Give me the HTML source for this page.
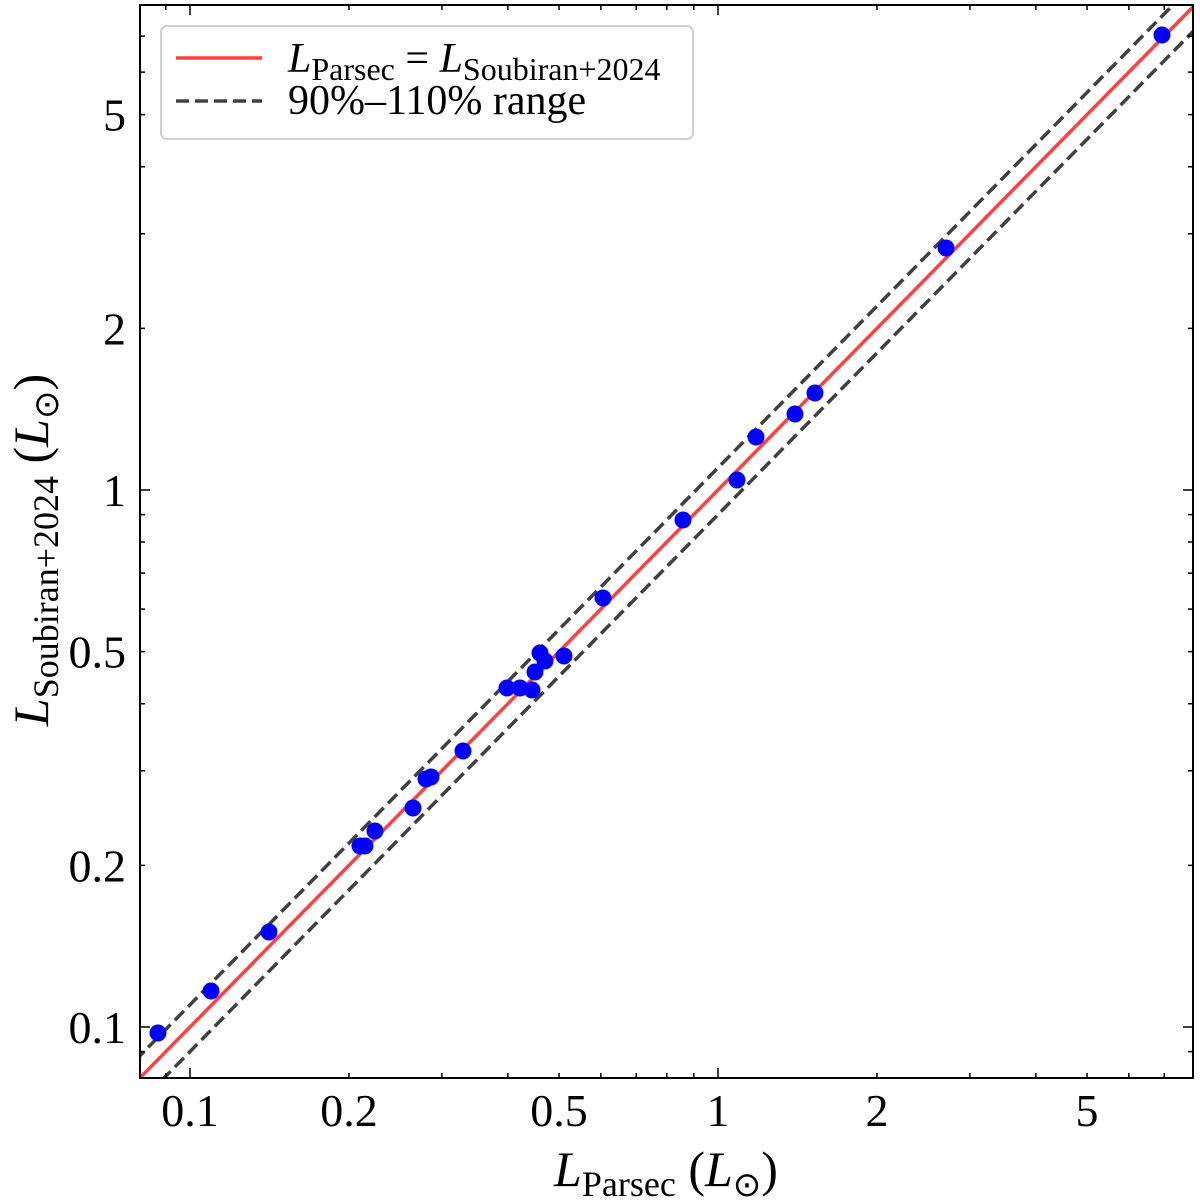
<!DOCTYPE html>
<html><head><meta charset="utf-8"><style>
body{margin:0;background:#fff}
svg{display:block;font-family:"Liberation Serif",serif}
</style></head><body>
<svg id="s" width="1200" height="1201" xmlns="http://www.w3.org/2000/svg"></svg>
<script>
const L=140,R=1193,T=5,B=1078;
const X=v=>718+528*Math.log10(v);
const Y=v=>490-537*Math.log10(v);
let h='<defs><clipPath id="c"><rect x="'+L+'" y="'+T+'" width="'+(R-L)+'" height="'+(B-T)+'"/></clipPath></defs>';
h+='<g clip-path="url(#c)">';
const x0=0.07,x1=9;
function ln(f,st,dash){h+=`<line x1="${X(x0)}" y1="${Y(x0*f)}" x2="${X(x1)}" y2="${Y(x1*f)}" stroke="${st}" stroke-width="3.5" ${dash?'stroke-dasharray="13,6"':''}/>`;}
ln(1.1,'#404040',1);ln(0.9,'#404040',1);ln(1,'#ff4040',0);
const pts=[[158,1033],[211,991],[269,932],[360,846],[365,846],[375,831],[413,808],[426,779],[431,777],[463,751],[507,688],[520,688],[532,690],[535,672],[540,653],[545,661],[564,656],[603,598],[683,520],[737,480],[756,437],[795,414],[815,393],[946,248],[1162,35]];
pts.forEach(p=>h+=`<circle cx="${p[0]}" cy="${p[1]}" r="8.5" fill="#0000ff"/>`);
h+='</g>';
let t='';
for(let d=-2;d<=1;d++)for(let m=1;m<10;m++){const v=m*Math.pow(10,d);const len=m==1?10:5;
 const x=X(v);if(x>L&&x<R){t+=`M${x} ${B}v${-len}M${x} ${T}v${len}`;}
 const y=Y(v);if(y>T&&y<B){t+=`M${L} ${y}h${len}M${R} ${y}h${-len}`;}}
h+=`<path d="${t}" stroke="#000" stroke-width="1.5" fill="none"/>`;
h+=`<rect x="${L}" y="${T}" width="${R-L}" height="${B-T}" fill="none" stroke="#000" stroke-width="2"/>`;
[[0.1,'0.1'],[0.2,'0.2'],[0.5,'0.5'],[1,'1'],[2,'2'],[5,'5']].forEach(([v,s])=>{
 h+=`<text x="${X(v)}" y="1126" font-size="46" text-anchor="middle">${s}</text>`;
 h+=`<text x="126" y="${Y(v)+16}" font-size="46" text-anchor="end">${s}</text>`;});
h+=`<text x="666" y="1186" font-size="50" text-anchor="middle"><tspan font-style="italic">L</tspan><tspan font-size="36" dy="10">Parsec</tspan><tspan dy="-10"> (</tspan><tspan font-style="italic">L</tspan><tspan font-size="34" dy="10">⊙</tspan><tspan dy="-10">)</tspan></text>`;
h+=`<g transform="translate(48,550) rotate(-90)"><text x="0" y="0" font-size="50" text-anchor="middle"><tspan font-style="italic">L</tspan><tspan font-size="36" dy="10">Soubiran+2024</tspan><tspan dy="-10"> (</tspan><tspan font-style="italic">L</tspan><tspan font-size="34" dy="10">⊙</tspan><tspan dy="-10">)</tspan></text></g>`;
h+=`<rect x="161" y="26" width="532" height="113" rx="6" fill="#fff" fill-opacity="0.8" stroke="#d0d0d0" stroke-width="2"/>`;
h+=`<line x1="176" y1="58" x2="262" y2="58" stroke="#ff4040" stroke-width="3.5"/>`;
h+=`<line x1="176" y1="101" x2="262" y2="101" stroke="#404040" stroke-width="3.5" stroke-dasharray="13,6"/>`;
h+=`<text x="288" y="72" font-size="42"><tspan font-style="italic">L</tspan><tspan font-size="32" dy="8">Parsec</tspan><tspan dy="-8"> = </tspan><tspan font-style="italic">L</tspan><tspan font-size="32" dy="8">Soubiran+2024</tspan></text>`;
h+=`<text x="288" y="114" font-size="42">90%–110% range</text>`;
document.getElementById('s').innerHTML=h;
</script>
</body></html>
